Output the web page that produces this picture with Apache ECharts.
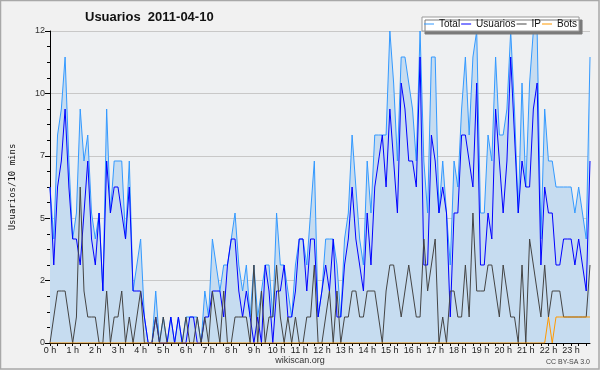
<!DOCTYPE html>
<html><head><meta charset="utf-8">
<script src="https://cdn.jsdelivr.net/npm/echarts@6/dist/echarts.min.js"></script>
<style>html,body{margin:0;padding:0;background:#f1f1f1}#c{width:600px;height:370px}</style>
</head><body><div id="c"></div>
<script>
const hourLabels = ['0 h','1 h','2 h','3 h','4 h','5 h','6 h','7 h','8 h','9 h','10 h','11 h','12 h','13 h','14 h','15 h','16 h','17 h','18 h','19 h','20 h','21 h','22 h','23 h'];
const yTickLabels = ['0','2','5','7','10','12'];
const seriesNames = ['Total','Usuarios','IP','Bots'];

const total = [6,4,8,9,11,7,4,5,9,7, 8,5,4,5,2,9,5,7,7,7, 4,7,2,3,4,1,0,0,2,0,
  1,0,1,0,1,0,1,1,1,1, 0,2,1,4,3,2,3,3,4,5, 3,2,3,1,3,1,2,3,3,1,
  5,3,3,2,1,3,4,4,3,5, 7,1,2,4,4,4,3,1,4,5, 8,6,4,3,7,5,8,8,8,8,
  12,10,7,11,11,10,9,7,12,7, 5,11,11,5,7,5,3,7,6,9, 11,8,11,12,5,5,8,7,11,8,
  8,9,12,9,5,10,6,10,12,12, 4,9,7,7,6,6,6,6,6,5, 6,5,4,11];
const usuarios = [6,3,6,7,9,6,4,4,3,5, 7,4,3,5,2,7,5,6,6,5, 4,6,2,2,2,1,0,0,1,0,
  0,0,1,0,1,0,0,1,1,0, 0,1,1,2,2,2,1,3,4,4, 2,1,2,1,0,1,0,3,2,0,
  2,2,3,1,1,2,4,4,2,4, 4,1,2,3,2,4,1,1,3,4, 6,4,3,2,5,3,6,7,8,6,
  9,7,5,10,9,7,7,6,11,3, 3,8,7,5,6,5,1,5,5,8, 8,7,6,10,3,3,5,4,9,7,
  5,7,11,8,5,7,6,6,9,10, 3,6,5,5,3,3,4,4,4,3, 4,3,2,7];
const ip = [0,1,2,2,2,1,0,1,6,2, 1,1,1,0,0,2,0,1,1,2, 0,1,0,1,2,0,0,0,1,0,
  1,0,0,0,0,0,1,0,0,1, 0,1,0,2,1,0,2,0,0,1, 1,1,1,0,3,0,2,0,1,1,
  3,1,0,1,0,1,0,0,1,1, 3,0,0,1,2,0,2,0,1,1, 2,2,1,1,2,2,2,1,0,2,
  3,3,2,1,2,3,2,1,1,4, 2,3,4,0,1,0,2,2,1,1, 3,1,5,2,2,2,3,3,2,1,
  3,2,1,1,0,3,0,4,3,2, 1,3,1,2,2,2,1,1,1,1, 1,1,1,3];
const bots = [0,0,0,0,0,0,0,0,0,0, 0,0,0,0,0,0,0,0,0,0, 0,0,0,0,0,0,0,0,0,0,
  0,0,0,0,0,0,0,0,0,0, 0,0,0,0,0,0,0,0,0,0, 0,0,0,0,0,0,0,0,0,0,
  0,0,0,0,0,0,0,0,0,0, 0,0,0,0,0,0,0,0,0,0, 0,0,0,0,0,0,0,0,0,0,
  0,0,0,0,0,0,0,0,0,0, 0,0,0,0,0,0,0,0,0,0, 0,0,0,0,0,0,0,0,0,0,
  0,0,0,0,0,0,0,0,0,0, 0,0,1,0,1,1,1,1,1,1, 1,1,1,1];

const slots = [];
hourLabels.forEach(h => { for (let m = 0; m < 60; m += 10) slots.push(h + ' ' + m); });

const FONT = 'Liberation Sans';
const chart = echarts.init(document.getElementById('c'), null, {renderer: 'canvas'});
const lineSeries = (name, data, color, extra) => Object.assign({
  name, type: 'line', data, showSymbol: false, symbol: 'none', animation: false,
  lineStyle: {color, width: 1}, itemStyle: {color}
}, extra || {});

chart.setOption({
  backgroundColor: '#f1f1f1',
  animation: false,
  title: {
    text: 'Usuarios  2011-04-10', left: 80, top: 6,
    textStyle: {fontFamily: FONT, fontSize: 13, fontWeight: 'bold', color: '#111'}
  },
  legend: {
    data: seriesNames, left: 422, top: 17, itemWidth: 10, itemHeight: 1, icon: 'rect',
    itemGap: 1, padding: [2, 2, 2, 2], backgroundColor: '#fff', borderColor: '#999', borderWidth: 1,
    shadowColor: '#7a7a7a', shadowOffsetX: 3, shadowOffsetY: 3, shadowBlur: 0,
    textStyle: {fontFamily: FONT, fontSize: 10, color: '#111'}
  },
  grid: {left: 46, right: 10, top: 31, bottom: 27, show: true, backgroundColor: '#eef0f2', borderWidth: 0, containLabel: false},
  xAxis: {
    type: 'category', data: slots, boundaryGap: false,
    axisLine: {lineStyle: {color: '#000', width: 1}},
    axisTick: {interval: 1, length: 3, lineStyle: {color: '#000'}},
    axisLabel: {interval: 5, margin: 3, fontFamily: FONT, fontSize: 9, color: '#222',
      formatter: (v, i) => hourLabels[Math.round(i / 6)]},
    splitLine: {show: false}
  },
  yAxis: {
    type: 'value', min: 0, max: 12, interval: 2.4,
    name: 'Usuarios/10 mins', nameLocation: 'middle', nameGap: 33, nameRotate: 90,
    nameTextStyle: {fontFamily: 'DejaVu Sans Mono', fontSize: 9, color: '#111'},
    axisLine: {show: true, lineStyle: {color: '#000', width: 1}},
    axisTick: {show: true, length: 5, lineStyle: {color: '#000'}},
    minorTick: {show: true, splitNumber: 4, length: 3, lineStyle: {color: '#000'}},
    splitLine: {lineStyle: {color: '#c8c8c8', width: 1}},
    axisLabel: {margin: 5, fontFamily: FONT, fontSize: 9, color: '#333',
      formatter: v => yTickLabels[Math.round(v / 2.4)]}
  },
  series: [
    lineSeries('Total', total, '#3399ff', {areaStyle: {color: '#c6dcf0', opacity: 1}, z: 1}),
    lineSeries('Usuarios', usuarios, '#0000ff', {z: 2}),
    lineSeries('IP', ip, '#444444', {z: 3}),
    lineSeries('Bots', bots, '#ff9900', {z: 4})
  ],
  graphic: [
    {type: 'rect', silent: true, z: 100, shape: {x: 0.5, y: 0.5, width: 598.5, height: 368.5},
      style: {fill: 'none', stroke: '#a8a8a8', lineWidth: 1.5}},
    {type: 'text', left: 'center', top: 356, style: {text: 'wikiscan.org', fontFamily: FONT, fontSize: 9, fill: '#333'}},
    {type: 'text', right: 10, top: 359, style: {text: 'CC BY-SA 3.0', fontFamily: FONT, fontSize: 7, fill: '#444'}}
  ]
});
</script></body></html>
